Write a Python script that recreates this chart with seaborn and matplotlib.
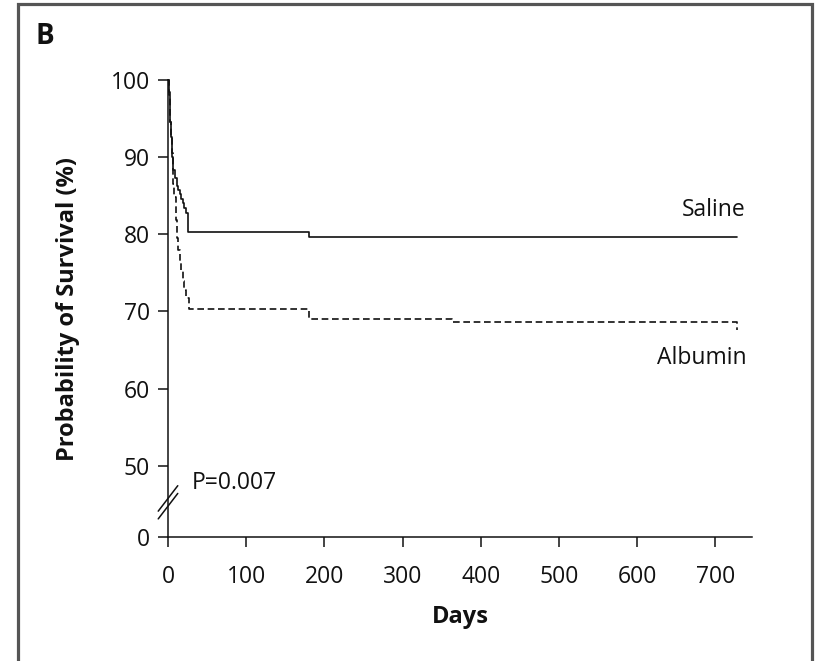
import matplotlib
matplotlib.use("Agg")
import matplotlib.pyplot as plt
import seaborn as sns
import pandas as pd
from matplotlib.patches import Rectangle
from matplotlib.lines import Line2D

# ---- data ----
saline_days = [0, 1, 2, 3, 4, 5, 7, 9, 11, 13, 15, 17, 19, 21, 23, 25, 26, 180, 728]
saline_surv = [100, 98.5, 96.9, 94.5, 92.6, 90.0, 88.3, 87.3, 86.3, 85.7, 85.2, 84.6,
               84.0, 83.4, 82.7, 81.8, 80.3, 79.6, 79.6]

albumin_days = [0, 1, 2, 3, 4, 5, 6, 7, 8, 10, 12, 13, 15, 17, 19, 21, 23, 27, 180, 363, 728]
albumin_surv = [100, 98.0, 96.5, 94.5, 92.6, 90.5, 88.7, 86.5, 84.8, 81.8, 79.5, 77.9,
                76.5, 75.4, 74.0, 72.8, 71.8, 70.3, 69.0, 68.6, 67.6]

ytick_labels = ["0", "50", "60", "70", "80", "90", "100"]
xtick_values = [0, 100, 200, 300, 400, 500, 600, 700]
p_text = "P=0.007"

# ---- style ----
sns.set_theme(style="white")
plt.rcParams["font.family"] = ["Open Sans", "DejaVu Sans"]

W, H = 817, 661
INK = "#111111"
fig = plt.figure(figsize=(W / 100, H / 100), dpi=100)
ax_h = 537 - 80
ax = fig.add_axes([168 / W, (H - 537) / H, (752 - 168) / W, ax_h / H])

Y_BOTTOM = 40.75  # broken axis: "0" sits at the bottom
df_s = pd.DataFrame({"day": saline_days, "surv": saline_surv})
df_a = pd.DataFrame({"day": albumin_days, "surv": albumin_surv})

sns.lineplot(data=df_s, x="day", y="surv", ax=ax, color=INK, lw=1.2,
             drawstyle="steps-post", estimator=None, sort=False, clip_on=False)
sns.lineplot(data=df_a, x="day", y="surv", ax=ax, color=INK, lw=1.2,
             drawstyle="steps-post", estimator=None, sort=False, dashes=(4.0, 2.2),
             clip_on=False)

ax.set_xlim(0, 747)
ax.set_ylim(Y_BOTTOM, 100)
ax.set_xticks(xtick_values)
ax.set_xticklabels([str(v) for v in xtick_values])
ax.set_yticks([Y_BOTTOM, 50, 60, 70, 80, 90, 100])
ax.set_yticklabels(ytick_labels)

for side in ["top", "right"]:
    ax.spines[side].set_visible(False)
for side in ["left", "bottom"]:
    ax.spines[side].set_color(INK)
    ax.spines[side].set_linewidth(1.1)

ax.tick_params(axis="both", which="both", direction="out", length=7, width=1.1,
               color=INK, labelsize=16.5, labelcolor=INK, left=True, bottom=True)
ax.tick_params(axis="y", pad=6)
ax.tick_params(axis="x", pad=13)

ax.set_xlabel("Days", fontsize=17, fontweight="bold", color=INK)
ax.set_ylabel("Probability of Survival (%)", fontsize=17, fontweight="bold", color=INK)
ax.xaxis.set_label_coords(0.5, (537 - 617) / ax_h)
ax.xaxis.label.set_va("center")
ax.yaxis.set_label_coords((68 - 168) / 584, 0.5 + (308 - 308.5) / ax_h)
ax.yaxis.label.set_va("center")

# axis break marks
for off in (0.0, 1.0):
    ax.add_line(Line2D([-12.5, 12.5], [43.1 + off, 46.4 + off], color=INK,
                       lw=1.1, clip_on=False))

ax.text(31, 47.8, p_text, fontsize=16.5, va="center", ha="left", color=INK)
ax.text(739, 83.2, "Saline", fontsize=16.5, va="center", ha="right", color=INK)
ax.text(740, 63.9, "Albumin", fontsize=16.5, va="center", ha="right", color=INK)

fig.text(35 / W, 1 - 37 / H, "B", fontsize=20, fontweight="bold", va="center",
         ha="left", color=INK)

# panel frame (left, top, right)
fig.add_artist(Rectangle((17.5 / W, -0.05), (812 - 17.5) / W, 1.05 - 4 / H,
                         transform=fig.transFigure, fill=False, edgecolor="#555555",
                         lw=2.3))

fig.savefig("out.png", dpi=100)
